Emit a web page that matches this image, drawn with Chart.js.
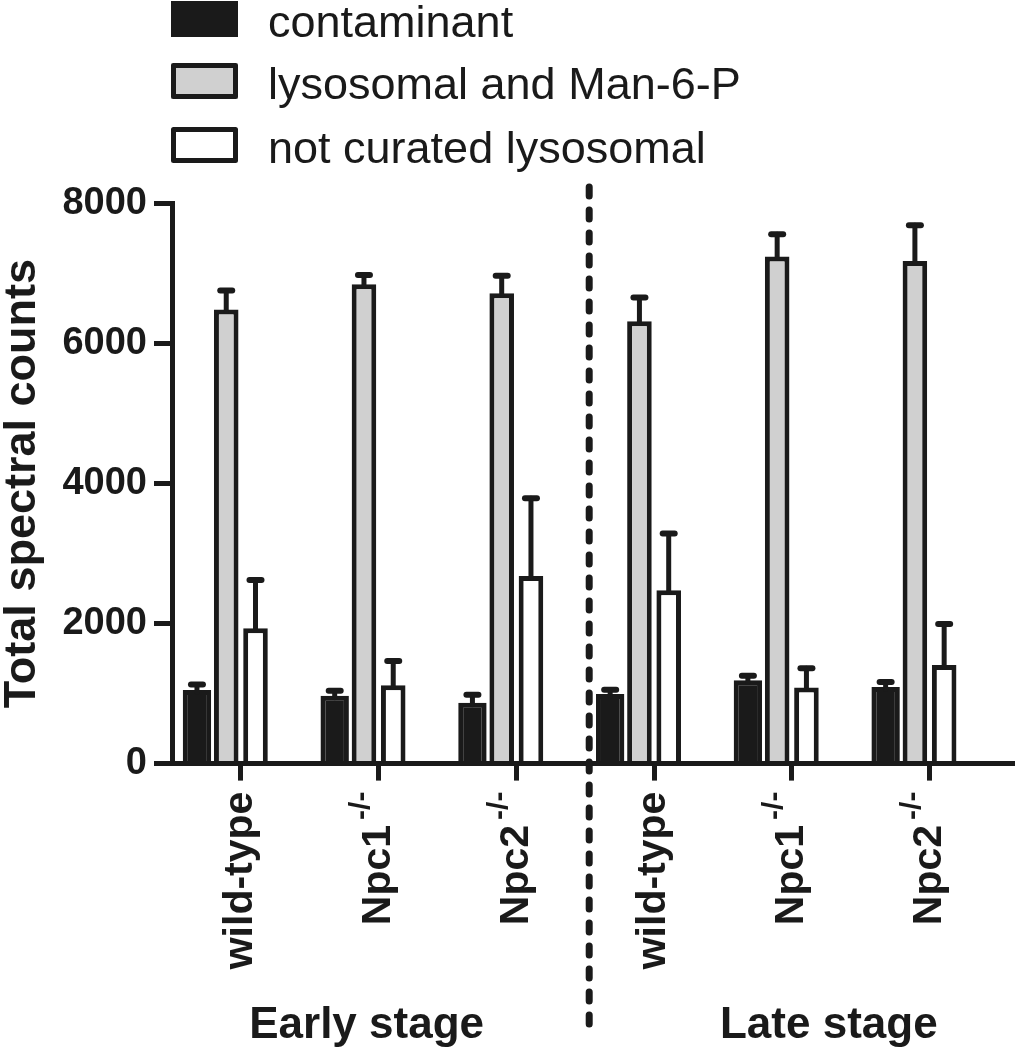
<!DOCTYPE html>
<html>
<head>
<meta charset="utf-8">
<script src="https://cdn.jsdelivr.net/npm/chart.js@4.4.0/dist/chart.umd.min.js"></script>
<style>
html,body{margin:0;padding:0;background:#fff;}
#wrap{width:1017px;height:1050px;position:relative;}
</style>
</head>
<body>
<div id="wrap"><canvas id="c" width="1017" height="1050"></canvas></div>
<script>
// ---- data ----
const categories = ['wild-type', 'Npc1', 'Npc2', 'wild-type', 'Npc1', 'Npc2'];
const categorySuperscripts = ['', '-/-', '-/-', '', '-/-', '-/-'];
const stageLabels = ['Early stage', 'Late stage'];
const seriesNames = ['contaminant', 'lysosomal and Man-6-P', 'not curated lysosomal'];
const contaminant = [1050, 970, 870, 995, 1190, 1095];
const contaminantErr = [80, 70, 115, 60, 66, 72];
const lysosomalM6P = [6490, 6850, 6720, 6320, 7245, 7180];
const lysosomalM6PErr = [270, 130, 250, 340, 317, 512];
const notCurated = [1935, 1120, 2680, 2476, 1087, 1410];
const notCuratedErr = [688, 345, 1110, 810, 274, 584];
const yTicks = [0, 2000, 4000, 6000, 8000];

// ---- styles ----
const INK = '#1a1a1a';
const FONT = "'Liberation Sans', Arial, Helvetica, sans-serif";
const fills = ['#1a1a1a', '#d0d0d0', '#ffffff'];
const values = [contaminant, lysosomalM6P, notCurated];
const errs = [contaminantErr, lysosomalM6PErr, notCuratedErr];

const datasets = [0, 1, 2].map(k => ({
  label: seriesNames[k],
  data: values[k],
  errors: errs[k],
  backgroundColor: fills[k],
  borderColor: INK,
  borderWidth: 5,
  borderSkipped: 'bottom',
  categoryPercentage: 0.85,
  barPercentage: k === 0 ? 0.97 : 0.84
}));
// empty slot so that the tick sits between the grey and white bars
datasets.push({
  label: '',
  data: categories.map(() => null),
  backgroundColor: 'rgba(0,0,0,0)',
  borderWidth: 0,
  categoryPercentage: 0.85,
  barPercentage: 0.84
});

const decor = {
  id: 'decor',
  afterDatasetsDraw(chart) {
    const ctx = chart.ctx, ys = chart.scales.y;
    ctx.save();
    ctx.strokeStyle = INK;
    ctx.lineCap = 'round';
    chart.data.datasets.forEach((ds, k) => {
      if (!ds.errors) return;
      const meta = chart.getDatasetMeta(k);
      meta.data.forEach((bar, i) => {
        const top = ys.getPixelForValue(ds.data[i] + ds.errors[i]);
        ctx.lineWidth = 5;
        ctx.beginPath(); ctx.moveTo(bar.x, bar.y + 2); ctx.lineTo(bar.x, top); ctx.stroke();
        ctx.lineWidth = 6;
        ctx.beginPath(); ctx.moveTo(bar.x - 6, top); ctx.lineTo(bar.x + 6, top); ctx.stroke();
      });
    });
    ctx.restore();
  },
  afterDraw(chart) {
    const ctx = chart.ctx, xs = chart.scales.x, ys = chart.scales.y, ca = chart.chartArea;
    ctx.save();
    // x axis line (extends past the last category)
    const y0 = ys.getPixelForValue(0);
    ctx.strokeStyle = INK; ctx.lineWidth = 5; ctx.lineCap = 'butt';
    ctx.beginPath(); ctx.moveTo(ca.left - 2, y0); ctx.lineTo(chart.width - 2, y0); ctx.stroke();

    // category labels, rotated, with superscripts
    ctx.fillStyle = INK;
    categories.forEach((lab, i) => {
      const x = xs.getPixelForValue(i);
      ctx.save();
      ctx.translate(x, y0 + 28);
      ctx.rotate(-Math.PI / 2);
      ctx.textAlign = 'right';
      ctx.textBaseline = 'middle';
      let off = 0;
      const sup = categorySuperscripts[i];
      if (sup) {
        ctx.font = 'bold 30px ' + FONT;
        ctx.fillText(sup, 0, -17);
        off = ctx.measureText(sup).width + 5;
      }
      ctx.font = 'bold 41px ' + FONT;
      ctx.fillText(lab, -off, 0);
      ctx.restore();
    });

    // stage labels
    ctx.font = 'bold 44px ' + FONT;
    ctx.textAlign = 'center';
    ctx.textBaseline = 'alphabetic';
    const earlyX = xs.getPixelForValue(1) - 12;
    const lateX = xs.getPixelForValue(4) + 37;
    ctx.fillText(stageLabels[0], earlyX, 1038);
    ctx.fillText(stageLabels[1], lateX, 1038);

    // dotted divider between stages
    const divX = (xs.getPixelForValue(2) + xs.getPixelForValue(3)) / 2 + 4;
    ctx.setLineDash([9, 14]);
    ctx.lineCap = 'round';
    ctx.lineWidth = 7;
    ctx.beginPath(); ctx.moveTo(divX, 187); ctx.lineTo(divX, 1024); ctx.stroke();
    ctx.setLineDash([]);

    // legend
    const baselines = [37, 99, 163];
    ctx.textAlign = 'left';
    ctx.font = '45px ' + FONT;
    seriesNames.forEach((name, k) => {
      const b = baselines[k];
      const bx = 171, bw = 67, bh = 36, by = b - bh;
      ctx.fillStyle = fills[k];
      ctx.fillRect(bx, by, bw, bh);
      ctx.strokeStyle = INK; ctx.lineWidth = 5; ctx.lineJoin = 'round';
      ctx.strokeRect(bx + 2.5, by + 2.5, bw - 5, bh - 5);
      ctx.fillStyle = INK;
      ctx.fillText(name, 268, b);
    });
    ctx.restore();
  }
};

new Chart(document.getElementById('c'), {
  type: 'bar',
  data: { labels: categories, datasets },
  options: {
    responsive: false,
    animation: false,
    devicePixelRatio: 1,
    layout: { padding: { top: 203.7, left: 0, right: 18.6, bottom: 0 } },
    plugins: { legend: { display: false }, tooltip: { enabled: false } },
    scales: {
      x: {
        type: 'category',
        offset: true,
        grid: { display: true, offset: false, drawOnChartArea: false, drawTicks: true, tickLength: 17, lineWidth: 5, color: INK },
        border: { display: false },
        ticks: { display: false },
        afterFit: s => { s.height = 1050 - 763.6; }
      },
      y: {
        min: 0, max: 8000,
        afterBuildTicks: s => { s.ticks = yTicks.map(v => ({ value: v })); },
        grid: { drawOnChartArea: false, drawTicks: true, tickLength: 18, lineWidth: 5, color: INK },
        border: { display: true, width: 5, color: INK },
        ticks: { font: { family: FONT, size: 38, weight: 'bold' }, color: INK, padding: 7,
                 callback: v => String(v) },
        title: { display: true, text: 'Total spectral counts', color: INK,
                 font: { family: FONT, size: 45, weight: 'bold', lineHeight: 1 }, padding: { top: 0, bottom: 0 } },
        afterFit: s => { s.width = 172; }
      }
    }
  },
  plugins: [decor]
});
</script>
</body>
</html>
